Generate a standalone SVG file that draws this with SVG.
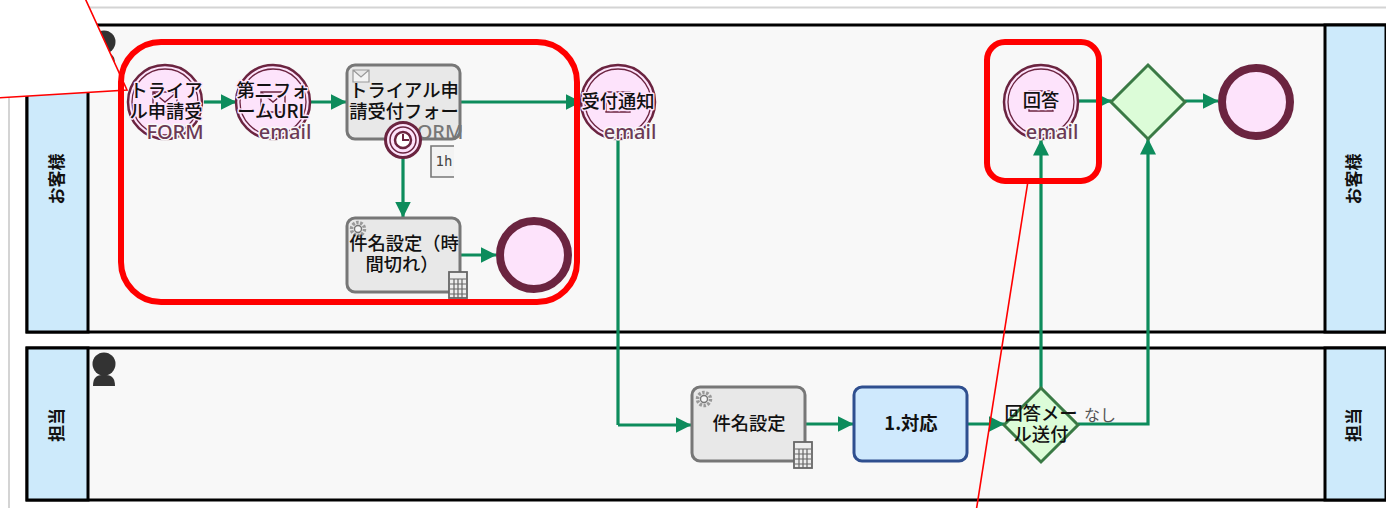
<svg xmlns="http://www.w3.org/2000/svg" width="1386" height="508" viewBox="0 0 1386 508">
<style>
text{font-family:"Noto Sans CJK JP","Noto Sans",sans-serif;text-anchor:middle;fill:#111;font-size:18.3px;font-weight:500}
.ha{paint-order:stroke;stroke:#fde3fb;stroke-width:3px;stroke-linejoin:round}
.sub{fill:#6b3a55;font-size:20px;font-family:"Noto Sans","Noto Sans CJK JP",sans-serif;font-weight:500;paint-order:stroke;stroke:#f8f8f8;stroke-width:3px;stroke-linejoin:round}
.sub2{fill:#777;font-size:20px;font-family:"Noto Sans",sans-serif;font-weight:500}
.lane{fill:#f8f8f8;stroke:#000;stroke-width:3}
.head{fill:#cdeafb;stroke:#000;stroke-width:3}
.lt{font-size:17px;font-weight:700}
.ev{fill:#fde3fb;stroke:#6b2440;stroke-width:2.5}
.evi{fill:none;stroke:#6b2440;stroke-width:1.3}
.end{fill:#fde3fb;stroke:#6b2440;stroke-width:8}
.task{fill:#e8e8e8;stroke:#777;stroke-width:3}
.gw{fill:#dcfcd8;stroke:#3a7a45;stroke-width:3}
.conn{fill:none;stroke:#0d8c5c;stroke-width:3.2}
.env{fill:none;stroke:#6b2440;stroke-width:1.4}
.red{fill:none;stroke:#f00;stroke-width:6}
.callout{fill:#fff;stroke:#f00;stroke-width:1.6}
</style>
<defs>
<marker id="ah" markerUnits="userSpaceOnUse" markerWidth="18" markerHeight="18" refX="15.500" refY="9" orient="auto"><path d="M0 1L16 9L0 17Z" fill="#0d8c5c"/></marker>
<g id="calc"><rect width="18" height="26" fill="#eee" stroke="#666" stroke-width="1.8"/><path d="M1 7H17M1 12H17M1 17H17M1 22H17M5 7V26M9 7V26M13 7V26" stroke="#666" stroke-width="1.2" fill="none"/></g>
<g id="gear"><circle r="6.500" fill="none" stroke="#999" stroke-width="3.500" stroke-dasharray="2.500 1.500"/><circle r="3.500" fill="#f5f5f5" stroke="#777" stroke-width="1.400"/></g>
<g id="person"><circle cx="0" cy="-10" r="11.500" fill="#333"/><path d="M-11 12C-11 2 -6 1 0 1C6 1 11 2 11 12Z" fill="#333"/></g>
</defs>
<path d="M85 7.500H1386M9 0V508" fill="none" stroke="#d4d4d4" stroke-width="2"/>
<g id="lane-customer">
<rect class="lane" x="27" y="25" width="1359" height="307"/>
<rect class="head" x="27" y="25" width="61" height="307"/>
<rect class="head" x="1325" y="25" width="61" height="307"/>
<text class="lt" transform="translate(63,179) rotate(-90)">お客様</text>
<text class="lt" transform="translate(1360,179) rotate(-90)">お客様</text>
<use href="#person" x="104" y="52"/>
</g>
<g id="lane-staff">
<rect class="lane" x="27" y="348" width="1359" height="152"/>
<rect class="head" x="27" y="348" width="61" height="152"/>
<rect class="head" x="1325" y="348" width="61" height="152"/>
<text class="lt" transform="translate(63,425) rotate(-90)">担当</text>
<text class="lt" transform="translate(1360,425) rotate(-90)">担当</text>
<use href="#person" x="104" y="374"/>
</g>
<g id="connectors">
<path class="conn" marker-end="url(#ah)" d="M204 102H236"/>
<path class="conn" marker-end="url(#ah)" d="M311 102H346"/>
<path class="conn" marker-end="url(#ah)" d="M461 102H581"/>
<path class="conn" marker-end="url(#ah)" d="M403 158V217"/>
<path class="conn" marker-end="url(#ah)" d="M461 255H496"/>
<path class="conn" d="M618 140V425"/><path class="conn" marker-end="url(#ah)" d="M618 425H691"/>
<path class="conn" marker-end="url(#ah)" d="M806 424H853"/>
<path class="conn" marker-end="url(#ah)" d="M968 424H1004"/>
<path class="conn" marker-end="url(#ah)" d="M1041 388V140"/>
<path class="conn" marker-end="url(#ah)" d="M1078 424H1148V139"/>
<path class="conn" marker-end="url(#ah)" d="M1079 101H1111"/>
<path class="conn" marker-end="url(#ah)" d="M1185 101H1218"/>
</g>
<g id="n-trial-event">
<circle class="ev" cx="165" cy="102" r="37"/><circle class="evi" cx="165" cy="102" r="33"/>
<path class="env" d="M153 92H177V112H153ZM153 92L165 102L177 92"/>
<text class="ha" x="166" y="97">トライア</text><text class="ha" x="166" y="118">ル申請受</text>
<text class="sub" x="175" y="139">FORM</text>
</g>
<g id="n-form-url">
<circle class="ev" cx="273" cy="102" r="37"/><circle class="evi" cx="273" cy="102" r="33"/>
<path class="env" d="M261 92H285V112H261ZM261 92L273 102L285 92"/>
<text class="ha" x="273" y="97">第二フォ</text><text class="ha" x="273" y="118">ームURL</text>
<text class="sub" x="285" y="139">email</text>
</g>
<g id="n-form-task">
<rect class="task" x="347" y="65" width="113" height="74" rx="8"/>
<path d="M353 70H369V82H353ZM353 70L361 77L369 70" fill="#f4f4f4" stroke="#999" stroke-width="1.200"/>
<text x="404" y="97">トライアル申</text><text x="404" y="118">請受付フォー</text>
<text class="sub2" x="440" y="139">ORM</text>
</g>
<g id="n-timer">
<circle cx="403" cy="140" r="17.500" fill="#fde3fb" stroke="#6b2440" stroke-width="3"/>
<circle cx="403" cy="140" r="13" fill="none" stroke="#6b2440" stroke-width="1.500"/>
<circle cx="403" cy="140" r="8" fill="#fff" stroke="#6b2440" stroke-width="2.500"/>
<path d="M403 134V140H409" fill="none" stroke="#6b2440" stroke-width="2"/>
<path d="M454 146H431V177H454" fill="#f3f3f3" stroke="#777" stroke-width="1.600"/>
<text x="444" y="166" style="font-family:'DejaVu Sans Mono',monospace;font-size:14px;font-weight:400;fill:#444">1h</text>
</g>
<g id="n-subject-timeout">
<rect class="task" x="347" y="218" width="113" height="74" rx="8"/>
<use href="#gear" x="358" y="229"/>
<text x="404" y="250">件名設定（時</text><text x="402" y="271">間切れ）</text>
<use href="#calc" x="449" y="272"/>
</g>
<g id="n-end-timeout"><circle class="end" cx="534" cy="255" r="34"/></g>
<g id="n-notice">
<circle class="ev" cx="618" cy="102" r="37"/><circle class="evi" cx="618" cy="102" r="33"/>
<path class="env" d="M606 92H630V112H606Z"/>
<text class="ha" x="618" y="108">受付通知</text>
<text class="sub" x="630" y="139">email</text>
</g>
<g id="n-answer">
<circle class="ev" cx="1041" cy="102" r="37"/><circle class="evi" cx="1041" cy="102" r="33"/>
<path class="env" d="M1029 91H1053V111H1029Z"/>
<text class="ha" x="1041" y="107">回答</text>
<text class="sub" x="1052" y="139">email</text>
</g>
<g id="n-gateway-top"><path class="gw" d="M1148 65L1185 102L1148 139L1111 102Z"/></g>
<g id="n-end"><circle class="end" cx="1256" cy="102" r="34"/></g>
<g id="n-subject">
<rect class="task" x="692" y="387" width="113" height="74" rx="8"/>
<use href="#gear" x="704" y="399"/>
<text x="749" y="430">件名設定</text>
<use href="#calc" x="794" y="442"/>
</g>
<g id="n-response">
<rect x="854" y="387" width="113" height="74" rx="8" fill="#cfe9fd" stroke="#2f4f8f" stroke-width="3"/>
<text x="911" y="430" style="font-weight:700">1.対応</text>
</g>
<g id="n-mail-gateway">
<path class="gw" d="M1041 388L1078 425L1041 462L1004 425Z"/>
<text x="1041" y="420">回答メー</text><text x="1041" y="441">ル送付</text>
</g>
<text x="1100" y="421" style="font-size:16px;font-weight:400;fill:#555">なし</text>
<g id="callouts">
<path class="callout" d="M84 -4L127 90L-4 98L-4 -4Z"/>
<path class="callout" d="M1028 181L976 512"/>
<rect class="red" x="121" y="42" width="456" height="260" rx="40"/>
<rect class="red" x="987" y="42" width="112" height="139" rx="18"/>
</g>
</svg>
